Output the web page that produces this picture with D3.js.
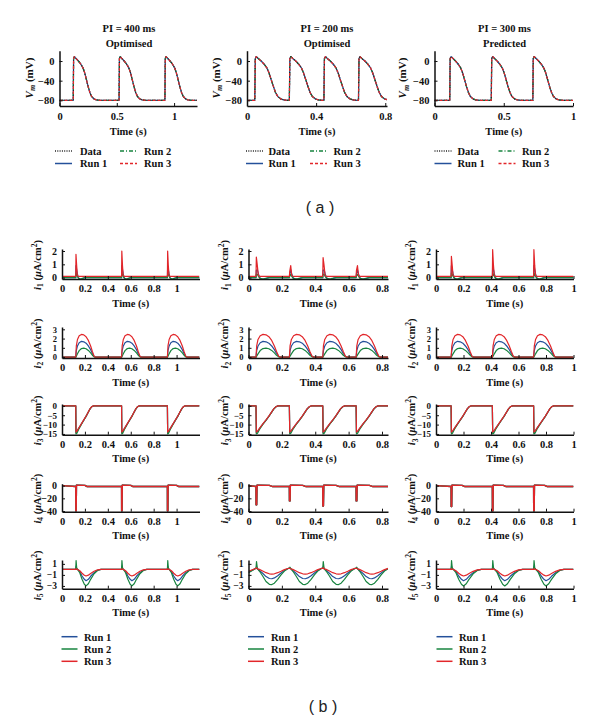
<!DOCTYPE html>
<html><head><meta charset="utf-8">
<script src="https://cdn.jsdelivr.net/npm/d3@7"></script>
<style>body{margin:0;background:#fff}</style>
</head><body>
<svg id="c" width="600" height="719"></svg>
<script>
// ---------------- DATA ----------------
// panel (a): membrane potential
const topTitles = ["PI = 400 ms", "PI = 200 ms", "PI = 300 ms"];
const topSubtitles = ["Optimised", "Optimised", "Predicted"];
const onsets400 = [0.12, 0.52, 0.92];
const onsets200 = [0.045, 0.245, 0.445, 0.645];
const onsets300 = [0.11, 0.41, 0.71];
const vmTicks = [0, -40, -80];
const xTicksTop = [[0, 0.5, 1], [0, 0.4, 0.8], [0, 0.5, 1]];
const xTicksBottom = [[0, 0.2, 0.4, 0.6, 0.8, 1], [0, 0.2, 0.4, 0.6, 0.8], [0, 0.2, 0.4, 0.6, 0.8, 1]];
// one action potential (mV), time after onset (s) per pacing interval
const apValues   = [-80, 5, 9, 5, 0, -6, -14, -24, -38, -52, -64, -72, -77, -79, -80];
const apTimes400 = [0, 0.003, 0.01, 0.025, 0.045, 0.065, 0.085, 0.1, 0.115, 0.13, 0.145, 0.16, 0.18, 0.2, 0.23];
const apTimes200 = [0, 0.003, 0.009, 0.02, 0.037, 0.053, 0.07, 0.082, 0.095, 0.108, 0.12, 0.133, 0.15, 0.168, 0.19];
const apTimes300 = [0, 0.003, 0.01, 0.024, 0.042, 0.06, 0.079, 0.093, 0.107, 0.121, 0.135, 0.149, 0.168, 0.187, 0.215];
const topLegend = ["Data", "Run 1", "Run 2", "Run 3"];

// panel (b): currents (null = per-beat peak value)
const i1Times = [0, 0.002, 0.008, 0.014, 0.022, 0.035, 0.05, 0.065, 0.08];
const i1Run1 = [0, null, 0.6, 0.3, 0, -0.12, -0.1, -0.04, 0];
const i1Run2 = [0, null, 0.25, 0.1, -0.03, -0.08, -0.07, -0.03, 0];
const i1Run3 = [0.1, null, 0.9, 0.15, 0.1, 0.1, 0.1, 0.1, 0.1];
const i1PeaksRun1 = [[0.9, 0.9, 0.9], [0.55, 0.2, 0.55, 0.3], [0.9, 0.9, 0.9]];
const i1PeaksRun2 = [[0.35, 0.35, 0.35], [0.25, 0.1, 0.25, 0.12], [0.35, 0.35, 0.35]];
const i1PeaksRun3 = [[1.75, 2.0, 2.0], [1.55, 0.45, 1.5, 0.55], [1.6, 2.1, 2.1]];

const i2Times = [
  [0, 0.005, 0.015, 0.03, 0.05, 0.07, 0.09, 0.11, 0.13, 0.145, 0.16, 0.17],
  [0, 0.004, 0.012, 0.025, 0.042, 0.06, 0.077, 0.094, 0.11, 0.123, 0.136, 0.145],
  [0, 0.005, 0.014, 0.028, 0.047, 0.066, 0.085, 0.104, 0.123, 0.138, 0.152, 0.162]];
const i2Run1 = [0, 0.7, 1.2, 1.55, 1.7, 1.65, 1.5, 1.2, 0.8, 0.4, 0.08, 0];
const i2Run2 = [0, 0.1, 0.35, 0.7, 0.92, 0.97, 0.9, 0.72, 0.45, 0.2, 0.03, 0];
const i2Run3 = [0, 1.2, 1.9, 2.3, 2.45, 2.4, 2.2, 1.8, 1.2, 0.6, 0.1, 0];

const i3Times = [
  [0, 0.002, 0.01, 0.03, 0.05, 0.07, 0.09, 0.11, 0.125, 0.14, 0.155],
  [0, 0.002, 0.009, 0.025, 0.042, 0.06, 0.077, 0.094, 0.107, 0.12, 0.132],
  [0, 0.002, 0.01, 0.028, 0.047, 0.066, 0.085, 0.104, 0.118, 0.132, 0.146]];
const i3Run1 = [0, -14.3, -13.7, -11.6, -9.6, -7.6, -5.6, -3.3, -1.6, -0.45, 0];
const i3Run2 = [0, -15, -14.6, -12, -9.8, -7.7, -5.6, -3.3, -1.6, -0.45, 0];
const i3Run3 = [0, -14, -13.5, -11.5, -9.5, -7.5, -5.5, -3.2, -1.5, -0.4, 0];

const i4Times = [0, 0.0005, 0.004, 0.006, 0.08, 0.1];
const i4Run = [-1.5, null, null, 0.5, 0.3, -1.5];
const i4Peaks = [[-40, -40, -40], [-30, -24, -32, -24], [-33, -40, -40]];

const i5Times = [
  [0, 0.003, 0.008, 0.015, 0.035, 0.055, 0.075, 0.09, 0.11, 0.13, 0.16, 0.19, 0.22],
  [0, 0.003, 0.008, 0.02, 0.04, 0.06, 0.08, 0.095, 0.11, 0.13, 0.15, 0.17, 0.195],
  [0, 0.003, 0.008, 0.015, 0.035, 0.055, 0.075, 0.09, 0.11, 0.13, 0.16, 0.19, 0.22]];
const i5Run1 = [
  [0, null, 0.1, 0, -0.4, -1.2, -1.8, -2.05, -1.8, -1.25, -0.6, -0.15, 0],
  [0.2, null, 0.1, -0.2, -0.7, -1.3, -1.65, -1.7, -1.55, -1.15, -0.65, -0.2, 0.2],
  [0, null, 0.1, 0, -0.4, -1.2, -1.8, -2.05, -1.8, -1.25, -0.6, -0.15, 0]];
const i5Run2 = [
  [0, null, 0.3, 0.05, -0.6, -1.8, -2.7, -3.0, -2.6, -1.8, -0.8, -0.2, 0],
  [0.2, null, 0.2, -0.3, -1.2, -2.2, -2.7, -2.75, -2.5, -1.8, -1.0, -0.3, 0.2],
  [0, null, 0.3, 0.05, -0.6, -1.8, -2.7, -3.0, -2.6, -1.8, -0.8, -0.2, 0]];
const i5Run3 = [
  [0, null, 0.02, 0, -0.25, -0.7, -1.05, -1.2, -1.05, -0.75, -0.35, -0.08, 0],
  [0.2, null, 0.1, 0, -0.3, -0.6, -0.8, -0.85, -0.8, -0.6, -0.35, -0.05, 0.2],
  [0, null, 0.02, 0, -0.25, -0.7, -1.05, -1.2, -1.05, -0.75, -0.35, -0.08, 0]];
const i5PeaksRun1 = [[0.6, 0.6, 0.6], [0.5, 0.2, 0.5, 0.2], [0.6, 0.6, 0.6]];
const i5PeaksRun2 = [[1.6, 1.6, 1.6], [1.4, 0.4, 1.4, 0.4], [1.6, 1.6, 1.6]];
const i5PeaksRun3 = [[0.15, 0.15, 0.15], [0.3, 0.2, 0.3, 0.2], [0.15, 0.15, 0.15]];
const i5Start = [[0, 0, 0], [-0.5, -0.6, -0.35], [0, 0, 0]]; // run1, run2, run3

const i1Ticks = [0, 1, 2], i2Ticks = [0, 1, 2, 3], i3Ticks = [0, -5, -10, -15], i4Ticks = [0, -20, -40], i5Ticks = [1, -1, -3];
const bottomLegend = ["Run 1", "Run 2", "Run 3"];

// ---------------- DRAWING ----------------
const svg = d3.select('#c');
const FONT = "'Liberation Serif','Times New Roman',serif";
const COL = {run1: '#24509a', run2: '#17843f', run3: '#e2262a', data: '#222'};
const fmt = d => (d < 0 ? '\u2212' : '') + Math.abs(d);

function build(onsets, times, values, peaks, start, tEnd) {
  const pts = [[0, start]];
  onsets.forEach((o, i) => {
    times.forEach((t, j) => {
      const v = values[j] === null ? peaks[i] : values[j];
      pts.push([o + t, v]);
    });
  });
  pts.push([tEnd, pts[pts.length - 1][1]]);
  return pts;
}

let clipId = 0;
function panel(x, y, xTicks, yTicks, padX, yFont) {
  const g = svg.append('g');
  const id = 'cp' + (clipId++);
  const [xa, xb] = x.range(), [yb, ya] = y.range();
  g.append('clipPath').attr('id', id).append('rect')
    .attr('x', xa).attr('y', ya - 2).attr('width', xb - xa).attr('height', yb - ya + 2);
  const plot = g.append('g').attr('clip-path', `url(#${id})`);
  const ax = g.append('g').attr('transform', `translate(0,${yb})`)
    .call(d3.axisBottom(x).tickValues(xTicks).tickFormat(fmt).tickSize(-3).tickSizeOuter(0).tickPadding(padX));
  const ay = g.append('g').attr('transform', `translate(${xa},0)`)
    .call(d3.axisLeft(y).tickValues(yTicks).tickFormat(fmt).tickSize(-3).tickSizeOuter(0).tickPadding(5));
  [ax, ay].forEach(a => {
    a.attr('font-family', FONT).attr('font-size', 10.5).attr('font-weight', 'bold');
    a.select('.domain').attr('stroke', '#111').attr('stroke-width', 1.5);
    a.selectAll('.tick line').attr('stroke', '#111');
    a.selectAll('.tick text').attr('fill', '#111');
  });
  ay.attr('font-size', yFont || 10.5);
  return plot;
}

function drawLine(plot, x, y, pts, color, dash, w) {
  plot.append('path').datum(pts)
    .attr('d', d3.line().x(d => x(d[0])).y(d => y(d[1])))
    .attr('fill', 'none').attr('stroke', color).attr('stroke-width', w || 1.2)
    .attr('stroke-dasharray', dash || null).attr('stroke-linejoin', 'round');
}

function text(x, y, s, size, anchor, weight) {
  return svg.append('text').attr('x', x).attr('y', y).attr('font-family', FONT)
    .attr('font-size', size).attr('font-weight', weight || 'bold').attr('fill', '#111')
    .attr('text-anchor', anchor || 'middle').text(s);
}

function yLabelV(x, yc) {
  const t = svg.append('text').attr('transform', `translate(${x},${yc}) rotate(-90)`)
    .attr('text-anchor', 'middle').attr('font-family', FONT).attr('font-size', 11)
    .attr('font-weight', 'bold').attr('fill', '#111');
  t.append('tspan').attr('font-style', 'italic').text('V');
  t.append('tspan').attr('font-style', 'italic').attr('font-size', 8).attr('dy', 2.5).text('m');
  t.append('tspan').attr('dy', -2.5).text(' (mV)');
}
function yLabelI(x, yc, n) {
  const t = svg.append('text').attr('transform', `translate(${x},${yc}) rotate(-90)`)
    .attr('text-anchor', 'middle').attr('font-family', FONT).attr('font-size', 10.5)
    .attr('font-weight', 'bold').attr('fill', '#111');
  t.append('tspan').attr('font-style', 'italic').text('i');
  t.append('tspan').attr('font-size', 7.5).attr('dy', 2.5).text(n);
  t.append('tspan').attr('dy', -2.5).text(' (');
  t.append('tspan').attr('font-style', 'italic').text('μ');
  t.append('tspan').text('A/cm');
  t.append('tspan').attr('font-size', 7.5).attr('dy', -4).text('2');
  t.append('tspan').attr('dy', 4).text(')');
}

const STY = {
  data: {c: COL.data, d: '1,1.3', w: 1.1},
  run1: {c: COL.run1, d: null, w: 1.3},
  run2: {c: COL.run2, d: '4,2,1,2', w: 1.2},
  run3: {c: COL.run3, d: '3,2', w: 1.2}
};

// ----- panel (a) -----
const topCols = [
  {x0: 59.5, x1: 197, dom: 1.2, onsets: onsets400, apT: apTimes400, titleX: 129, ylabX: 32.5, leg: [55, 80, 120, 144]},
  {x0: 247, x1: 387, dom: 0.81, onsets: onsets200, apT: apTimes200, titleX: 327, ylabX: 219.5, leg: [246, 268.5, 310, 333.5]},
  {x0: 434.5, x1: 573, dom: 1.0, onsets: onsets300, apT: apTimes300, titleX: 504.5, ylabX: 406, leg: [434.5, 457.5, 498.5, 522]}
];
const yTop = d3.scaleLinear().domain([-91.5, 21]).range([106, 50.7]);
topCols.forEach((c, i) => {
  const x = d3.scaleLinear().domain([0, c.dom]).range([c.x0, c.x1]);
  const plot = panel(x, yTop, xTicksTop[i], vmTicks, 7);
  const pts = build(c.onsets, c.apT, apValues, null, -80, c.dom);
  ['run1', 'run2', 'data', 'run3'].forEach(k => drawLine(plot, x, yTop, pts, STY[k].c, STY[k].d, STY[k].w));
  text(c.titleX, 31.5, topTitles[i], 10.5);
  text(c.titleX, 46.5, topSubtitles[i], 10.5);
  text((c.x0 + c.x1) / 2, 134.5, 'Time (s)', 10.5);
  yLabelV(c.ylabX, 78);
  // legend
  const rows = [[['data', topLegend[0]], ['run2', topLegend[2]]], [['run1', topLegend[1]], ['run3', topLegend[3]]]];
  rows.forEach((r, ri) => {
    const yy = 151 + ri * 12.5;
    r.forEach((e, ci) => {
      const lx = c.leg[ci * 2], tx = c.leg[ci * 2 + 1];
      svg.append('line').attr('x1', lx).attr('x2', lx + 17).attr('y1', yy).attr('y2', yy)
        .attr('stroke', STY[e[0]].c).attr('stroke-width', STY[e[0]].w + 0.2).attr('stroke-dasharray', STY[e[0]].d);
      text(tx, yy + 3.8, e[1], 10.5, 'start');
    });
  });
});
svg.append('text').attr('x', 320).attr('y', 213).attr('text-anchor', 'middle')
  .attr('font-family', "'Liberation Sans',Arial,sans-serif").attr('font-size', 16).attr('fill', '#222').text('( a )');

// ----- panel (b) -----
const botCols = [
  {x0: 62, x1: 199.5, dom: 1.2, onsets: onsets400, ylabX: 40.5, leg: [61.5, 84]},
  {x0: 248.5, x1: 388, dom: 0.836, onsets: onsets200, ylabX: 228, leg: [248, 271]},
  {x0: 436, x1: 573.5, dom: 1.0, onsets: onsets300, ylabX: 415, leg: [436.5, 459]}
];
const rowsB = [
  {n: '1', y0: 249, y1: 279, dom: [-0.1, 2.15], ticks: i1Ticks, yf: 10},
  {n: '2', y0: 327, y1: 358, dom: [-0.1, 3.25], ticks: i2Ticks, yf: 8.5},
  {n: '3', y0: 404, y1: 434.7, dom: [-15.4, 1], ticks: i3Ticks, yf: 9},
  {n: '4', y0: 483.7, y1: 511.7, dom: [-41, 3], ticks: i4Ticks, yf: 10},
  {n: '5', y0: 560, y1: 588.7, dom: [-3.5, 1.7], ticks: i5Ticks, yf: 9.5}
];
function seriesFor(ri, ci, c) {
  const o = c.onsets, e = c.dom;
  if (ri === 0) return {
    run1: build(o, i1Times, i1Run1, i1PeaksRun1[ci], 0, e),
    run2: build(o, i1Times, i1Run2, i1PeaksRun2[ci], 0, e),
    run3: build(o, i1Times, i1Run3, i1PeaksRun3[ci], 0.1, e)};
  if (ri === 1) return {
    run1: build(o, i2Times[ci], i2Run1, null, 0, e),
    run2: build(o, i2Times[ci], i2Run2, null, 0, e),
    run3: build(o, i2Times[ci], i2Run3, null, 0, e)};
  if (ri === 2) return {
    run1: build(o, i3Times[ci], i3Run1, null, 0, e),
    run2: build(o, i3Times[ci], i3Run2, null, 0, e),
    run3: build(o, i3Times[ci], i3Run3, null, 0, e)};
  if (ri === 3) return {
    run1: build(o, i4Times, i4Run, i4Peaks[ci], 0, e),
    run2: build(o, i4Times, i4Run, i4Peaks[ci], 0, e),
    run3: build(o, i4Times, i4Run, i4Peaks[ci], 0, e)};
  return {
    run1: build(o, i5Times[ci], i5Run1[ci], i5PeaksRun1[ci], i5Start[ci][0], e),
    run2: build(o, i5Times[ci], i5Run2[ci], i5PeaksRun2[ci], i5Start[ci][1], e),
    run3: build(o, i5Times[ci], i5Run3[ci], i5PeaksRun3[ci], i5Start[ci][2], e)};
}
const BCOL = {run1: COL.run1, run2: COL.run2, run3: COL.run3};
botCols.forEach((c, ci) => {
  const x = d3.scaleLinear().domain([0, c.dom]).range([c.x0, c.x1]);
  rowsB.forEach((r, ri) => {
    const y = d3.scaleLinear().domain(r.dom).range([r.y1, r.y0]);
    const plot = panel(x, y, xTicksBottom[ci], r.ticks, 6, r.yf);
    const s = seriesFor(ri, ci, c);
    ['run1', 'run2', 'run3'].forEach(k => drawLine(plot, x, y, s[k], BCOL[k], null, ri === 3 ? 1.4 : 1.2));
    text((c.x0 + c.x1) / 2, r.y1 + 27.5, 'Time (s)', 10.5);
    yLabelI(c.ylabX, (r.y0 + r.y1) / 2 + 1, r.n);
  });
  bottomLegend.forEach((lab, li) => {
    const yy = 636.7 + li * 12.3;
    svg.append('line').attr('x1', c.leg[0]).attr('x2', c.leg[0] + 16).attr('y1', yy).attr('y2', yy)
      .attr('stroke', BCOL['run' + (li + 1)]).attr('stroke-width', 1.5);
    text(c.leg[1], yy + 3.8, lab, 10.5, 'start');
  });
});
svg.append('text').attr('x', 323).attr('y', 712).attr('text-anchor', 'middle')
  .attr('font-family', "'Liberation Sans',Arial,sans-serif").attr('font-size', 16).attr('fill', '#222').text('( b )');
</script></body></html>
